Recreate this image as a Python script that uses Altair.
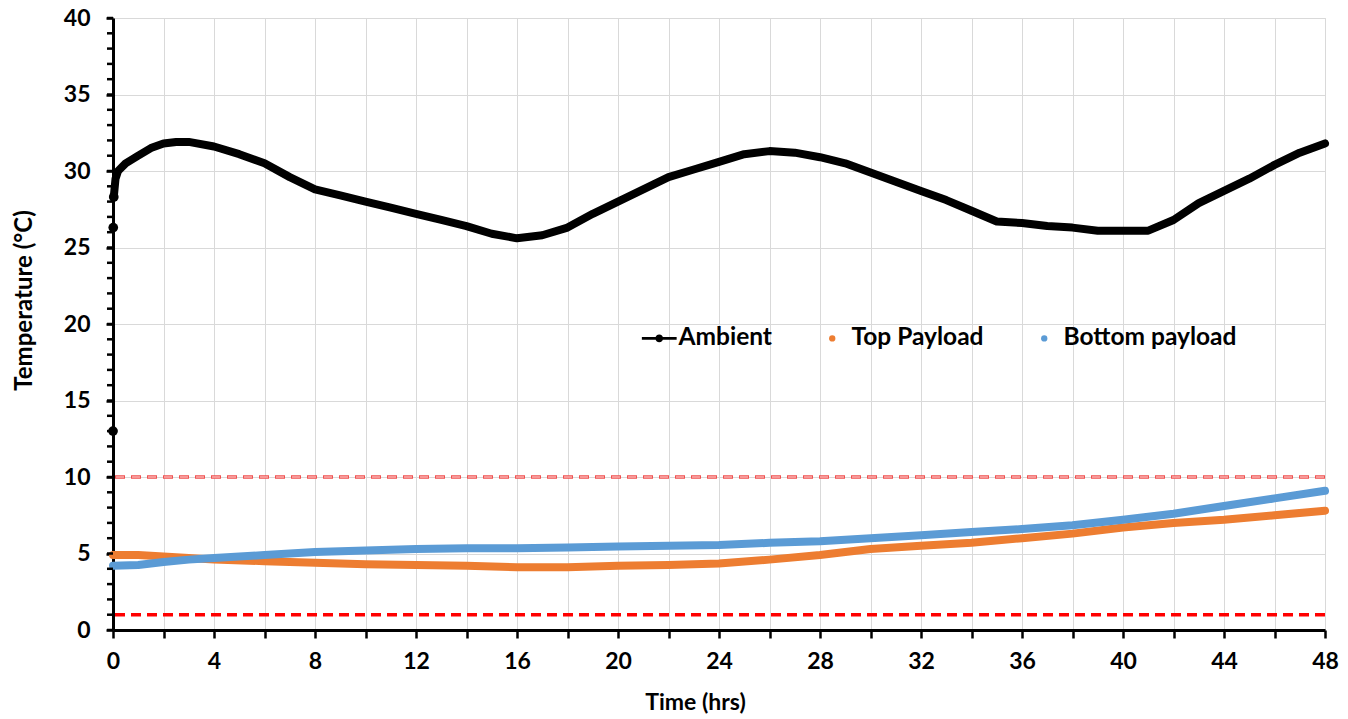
import altair as alt
import pandas as pd

# ---------------- data ----------------
amb_time = [0, 0.01, 0.03, 0.1, 0.2, 0.5, 1, 1.5, 2, 2.5, 3, 4, 5, 6, 7, 8, 9, 10, 11, 12,
            13, 14, 15, 16, 17, 18, 19, 20, 21, 22, 23, 24, 25, 26, 27, 28, 29, 30, 31,
            32, 33, 34, 35, 36, 37, 38, 39, 40, 41, 42, 43, 44, 45, 46, 47, 48]
amb_temp = [13.0, 26.3, 28.3, 29.5, 30.0, 30.5, 31.0, 31.5, 31.8, 31.9, 31.9, 31.6, 31.1, 30.5,
            29.6, 28.8, 28.4, 28.0, 27.6, 27.2, 26.8, 26.4, 25.9, 25.6, 25.8, 26.3, 27.2,
            28.0, 28.8, 29.6, 30.1, 30.6, 31.1, 31.3, 31.2, 30.9, 30.5, 29.9, 29.3, 28.7,
            28.1, 27.4, 26.7, 26.6, 26.4, 26.3, 26.1, 26.1, 26.1, 26.8, 27.9, 28.7, 29.5,
            30.4, 31.2, 31.8]

pay_time = [0, 1, 2, 3, 4, 6, 8, 10, 12, 14, 16, 18, 20, 22, 24, 26, 28, 30, 32, 34, 36,
            38, 40, 42, 44, 46, 48]
top_temp = [4.9, 4.9, 4.8, 4.7, 4.6, 4.5, 4.4, 4.3, 4.25, 4.2, 4.1, 4.1, 4.2, 4.25, 4.35,
            4.6, 4.9, 5.3, 5.5, 5.7, 6.0, 6.3, 6.7, 7.0, 7.2, 7.5, 7.8]
bot_temp = [4.2, 4.25, 4.45, 4.6, 4.7, 4.9, 5.1, 5.2, 5.3, 5.35, 5.35, 5.4, 5.45, 5.5, 5.55,
            5.7, 5.8, 6.0, 6.2, 6.4, 6.6, 6.85, 7.2, 7.6, 8.1, 8.6, 9.1]

limits = [10, 1]
series_names = ["Ambient", "Top Payload", "Bottom payload"]
series_colors = ["#000000", "#ED7D31", "#5B9BD5"]

x_ticks = list(range(0, 49, 2))
y_major = list(range(0, 41, 5))
y_minor = list(range(0, 41, 1))

# ---------------- tables ----------------
rows = []
for i, (t, v) in enumerate(zip(amb_time, amb_temp)):
    rows.append({"time": t, "temp": v, "series": "Ambient", "thick": i >= 2})
for t, v in zip(pay_time, top_temp):
    rows.append({"time": t, "temp": v, "series": "Top Payload", "thick": True})
for t, v in zip(pay_time, bot_temp):
    rows.append({"time": t, "temp": v, "series": "Bottom payload", "thick": True})
df = pd.DataFrame(rows)
lim_df = pd.DataFrame({"temp": limits, "kind": ["upper", "lower"]})
minor_df = pd.DataFrame({"temp": y_minor, "time": [0] * len(y_minor)})

FONT = "Lato"

xscale = alt.Scale(domain=[0, 48], nice=False, zero=False)
yscale = alt.Scale(domain=[0, 40], nice=False)

x_axis = alt.Axis(
    title="Time (hrs)", values=x_ticks,
    labelExpr="datum.value % 4 == 0 ? datum.label : ''",
    labelOverlap=False, labelFlush=False,
    titleX=582,
)
y_axis = alt.Axis(
    title="Temperature (°C)", values=y_major,
    labelOverlap=False, labelFlush=False,
    titleY=282,
)

X = lambda **kw: alt.X("time:Q", scale=xscale, **kw)
Y = lambda **kw: alt.Y("temp:Q", scale=yscale, **kw)

# axes carrier (first layer), invisible
base = alt.Chart(df).mark_point(size=0).encode(x=X(axis=x_axis), y=Y(axis=y_axis))

# minor ticks on the y axis
minor = alt.Chart(minor_df).mark_tick(
    orient="horizontal", size=6, thickness=2.5, color="black", xOffset=-3, opacity=1
).encode(x=X(), y=Y())

lower = alt.Chart(lim_df[lim_df.kind == "lower"]).mark_rule(
    color="#FF0000", strokeWidth=3.5, strokeDash=[10, 6]
).encode(y=Y())
upper_out = alt.Chart(lim_df[lim_df.kind == "upper"]).mark_rule(
    color="#F0504F", strokeWidth=3.5, strokeDash=[10, 6]
).encode(y=Y())
upper_in = alt.Chart(lim_df[lim_df.kind == "upper"]).mark_rule(
    color="#F9B0B0", strokeWidth=1.5, strokeDash=[8, 8], strokeDashOffset=-1
).encode(y=Y())

thin = alt.Chart(df[df.series == "Ambient"].head(3)).mark_line(
    strokeWidth=2, color="black"
).encode(x=X(), y=Y())

line_layers = []
for name, col in zip(series_names, series_colors):
    sub = df[(df.series == name) & df.thick]
    line_layers.append(
        alt.Chart(sub).mark_line(strokeWidth=8, strokeCap="round", strokeJoin="round", color=col)
        .encode(x=X(), y=Y())
    )

dots = alt.Chart(df[df.series == "Ambient"].head(3)).mark_circle(
    size=95, color="black", opacity=1
).encode(x=X(), y=Y())

amb_path = "M-5.5,-0.45H5.5V0.45H-5.5Z M1.2,0 A1.2,1.2 0 1,1 -1.2,0 A1.2,1.2 0 1,1 1.2,0Z"
legend_layer = alt.Chart(df).mark_point(filled=True, opacity=1).encode(
    x=X(), y=Y(),
    size=alt.value(0),
    color=alt.Color("series:N", scale=alt.Scale(domain=series_names, range=series_colors),
                    legend=alt.Legend(
                        title=None, orient="none", direction="horizontal",
                        legendX=534, legendY=308, symbolSize=40,
                        labelFont=FONT, labelFontSize=24.5, labelFontWeight="bold",
                        labelColor="black", columnPadding=48, labelOffset=7, labelLimit=0,
                        symbolStrokeWidth=0, symbolOpacity=1,
                    )),
    shape=alt.Shape("series:N",
                    scale=alt.Scale(domain=series_names, range=[amb_path, "circle", "circle"])),
)

chart = alt.layer(base, lower, upper_out, upper_in, thin, *line_layers, dots, minor,
                  legend_layer).properties(
    width=1212, height=612,
    autosize=alt.AutoSizeParams(type="none"),
    padding={"left": 113, "top": 18, "right": 23, "bottom": 89},
).configure_view(stroke=None).configure(background="white").configure_axis(
    grid=True, gridColor="#d9d9d9", gridWidth=1,
    domainColor="black", domainWidth=3, tickColor="black", tickWidth=2.5,
    labelFont=FONT, labelFontSize=23, labelFontWeight="bold", labelColor="black",
    titleFont=FONT, titleFontWeight="bold", titleColor="black",
).configure_axisX(
    tickSize=8, labelPadding=12, titlePadding=18, titleFontSize=23,
).configure_axisY(
    tickSize=7, labelPadding=16, titlePadding=27, titleFontSize=24,
)

chart.save("out.html", embed_options={"renderer": "svg", "actions": False})
